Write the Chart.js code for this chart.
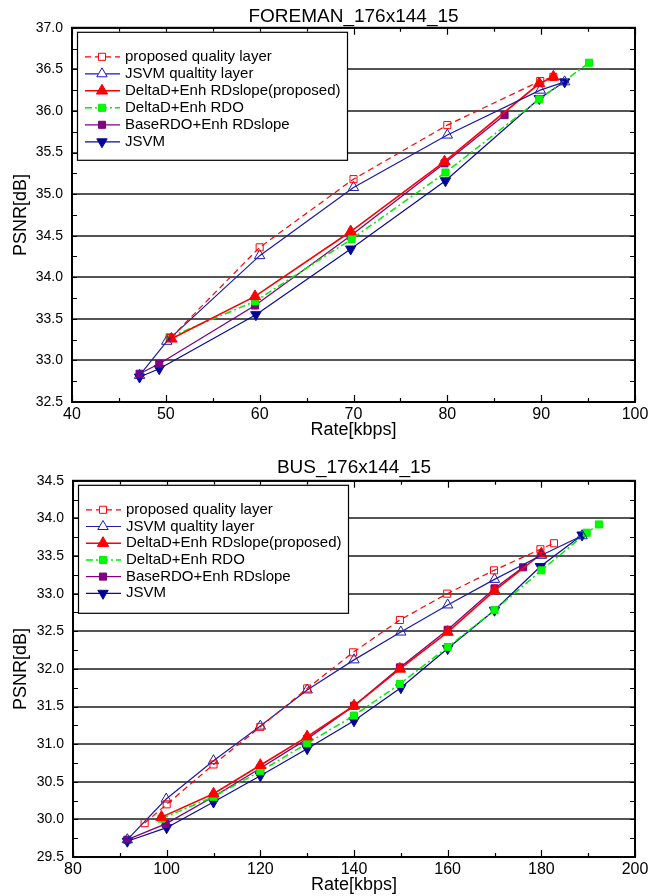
<!DOCTYPE html>
<html lang="en">
<head>
<meta charset="UTF-8">
<script src="https://cdn.jsdelivr.net/npm/chart.js"></script>
<title>PSNR vs Rate</title>
<style>
    body {
        margin: 0;
        padding: 0;
        background-color: #fff;
    }
    .box {
        width: 658px;
        height: 448px;
        position: relative;
    }
</style>
</head>
<body>

<div class="box"><canvas id="foremanChart" width="658" height="448"></canvas></div>
<div class="box"><canvas id="busChart" width="658" height="448"></canvas></div>

<script>
    const seriesNames = [
        'proposed quality layer',
        'JSVM qualtity layer',
        'DeltaD+Enh RDslope(proposed)',
        'DeltaD+Enh RDO',
        'BaseRDO+Enh RDslope',
        'JSVM'
    ];

    // FOREMAN_176x144_15  (rate in kbps, PSNR in dB)
    const foremanPropQLRate = [50.5, 60.0, 70.0, 80.0, 89.9, 91.3];
    const foremanPropQLPsnr = [33.27, 34.36, 35.18, 35.83, 36.36, 36.41];
    const foremanJsvmQLRate = [47.2, 50.1, 60.0, 70.0, 80.0, 89.9, 92.5];
    const foremanJsvmQLPsnr = [32.82, 33.23, 34.26, 35.08, 35.71, 36.25, 36.35];
    const foremanSlopeRate = [50.6, 59.5, 69.7, 79.7, 89.8, 91.3];
    const foremanSlopePsnr = [33.26, 33.77, 34.55, 35.39, 36.33, 36.41];
    const foremanRdoRate = [50.4, 59.5, 69.8, 79.8, 89.8, 95.1];
    const foremanRdoPsnr = [33.28, 33.71, 34.46, 35.26, 36.14, 36.58];
    const foremanBaseRate = [47.2, 49.3, 59.5, 69.7, 79.7, 86.1];
    const foremanBasePsnr = [32.84, 32.96, 33.66, 34.50, 35.37, 35.95];
    const foremanJsvmRate = [47.2, 49.3, 59.6, 69.7, 79.8, 89.8, 92.5];
    const foremanJsvmPsnr = [32.80, 32.90, 33.55, 34.34, 35.16, 36.15, 36.35];

    // BUS_176x144_15
    const busPropQLRate = [95.3, 100.0, 110.0, 120.0, 130.0, 139.8, 149.8, 159.9, 169.9, 179.8, 182.7];
    const busPropQLPsnr = [29.95, 30.20, 30.73, 31.23, 31.74, 32.22, 32.65, 33.00, 33.31, 33.59, 33.67];
    const busJsvmQLRate = [91.6, 99.9, 110.0, 120.0, 130.0, 140.0, 150.0, 160.0, 170.0, 180.0, 188.7];
    const busJsvmQLPsnr = [29.73, 30.27, 30.78, 31.24, 31.72, 32.12, 32.49, 32.85, 33.19, 33.51, 33.77];
    const busSlopeRate = [98.9, 110.0, 120.0, 130.0, 140.0, 149.8, 160.0, 170.0, 180.0];
    const busSlopePsnr = [30.03, 30.34, 30.72, 31.10, 31.51, 32.00, 32.49, 33.04, 33.53];
    const busRdoRate = [98.9, 110.0, 120.0, 130.0, 140.0, 149.8, 160.0, 170.0, 180.0, 189.7, 192.3];
    const busRdoPsnr = [30.01, 30.30, 30.64, 31.01, 31.38, 31.80, 32.29, 32.78, 33.31, 33.81, 33.92];
    const busBaseRate = [91.6, 99.8, 110.0, 120.0, 130.0, 140.0, 149.8, 160.0, 170.0, 176.1];
    const busBasePsnr = [29.73, 29.94, 30.30, 30.68, 31.07, 31.51, 32.02, 32.52, 33.07, 33.35];
    const busJsvmRate = [91.6, 100.0, 110.0, 120.0, 130.0, 140.0, 150.0, 160.0, 170.0, 179.8, 188.7];
    const busJsvmPsnr = [29.71, 29.89, 30.23, 30.58, 30.94, 31.31, 31.75, 32.27, 32.78, 33.36, 33.78];

    // axis ticks
    const foremanRateTicks = [40, 100, 10];
    const foremanPsnrTicks = [32.5, 37.0, 0.5];
    const busRateTicks = [80, 200, 20];
    const busPsnrTicks = [29.5, 34.5, 0.5];

    const FONT = '"Liberation Sans", Arial, Helvetica, sans-serif';

    // line / marker look of each series
    const seriesStyles = [
        { color: '#ff0000', width: 1.2, dash: [6, 4], point: 'rect', rot: 0, radius: 5, fill: 'rgba(255,255,255,0)', open: true },
        { color: '#1c1caa', width: 1.2, dash: [], point: 'triangle', rot: 0, radius: 6, fill: 'rgba(255,255,255,0)', open: true },
        { color: '#ff0000', width: 1.6, dash: [], point: 'triangle', rot: 0, radius: 6.5, fill: '#ff0000', open: false },
        { color: '#00ee00', width: 1.5, dash: [7, 3, 2, 3], point: 'rect', rot: 0, radius: 5, fill: '#00ff00', open: false },
        { color: '#800080', width: 1.3, dash: [], point: 'rect', rot: 0, radius: 5, fill: '#800080', open: false },
        { color: '#0a0a9a', width: 1.2, dash: [], point: 'triangle', rot: 180, radius: 6, fill: '#000099', open: false }
    ];

    function makeSet(i, rate, psnr) {
        const s = seriesStyles[i];
        return {
            label: seriesNames[i],
            data: rate.map((r, k) => ({ x: r, y: psnr[k] })),
            showLine: true,
            borderColor: s.color,
            borderWidth: s.width,
            borderDash: s.dash,
            pointStyle: s.point,
            pointRotation: s.rot,
            pointRadius: s.radius,
            pointBackgroundColor: s.fill,
            pointBorderColor: s.color,
            pointBorderWidth: 1,
            tension: 0,
            fill: false
        };
    }

    function drawMarker(ctx, s, x, y) {
        ctx.beginPath();
        if (s.point === 'rect') {
            const h = s.radius * Math.SQRT1_2;
            ctx.rect(x - h, y - h, 2 * h, 2 * h);
        } else {
            let rad = s.rot * Math.PI / 180;
            for (let k = 0; k < 3; k++) {
                const px = x + Math.sin(rad) * s.radius;
                const py = y - Math.cos(rad) * s.radius;
                if (k === 0) ctx.moveTo(px, py); else ctx.lineTo(px, py);
                rad += 2 * Math.PI / 3;
            }
            ctx.closePath();
        }
        ctx.fillStyle = s.open ? '#fff' : s.fill;
        ctx.fill();
        ctx.strokeStyle = s.color;
        ctx.lineWidth = 1;
        ctx.setLineDash([]);
        ctx.stroke();
    }

    // box frame, inward ticks and the legend inside the plot
    const framePlugin = {
        id: 'frameAndLegend',
        afterDatasetsDraw(chart, args, opts) {
            const { ctx, chartArea: a, scales } = chart;
            const xs = scales.x, ys = scales.y;
            ctx.save();
            ctx.setLineDash([]);
            ctx.strokeStyle = '#000';

            // inward ticks
            ctx.lineWidth = 1.2;
            ctx.beginPath();
            for (let v = xs.min; v <= xs.max + 1e-6; v += opts.xMinor) {
                const px = Math.round(xs.getPixelForValue(v)) + 0.5;
                const len = (Math.abs((v - xs.min) % opts.xMajor) < 1e-6) ? 7 : 4;
                ctx.moveTo(px, a.bottom); ctx.lineTo(px, a.bottom - len);
                ctx.moveTo(px, a.top); ctx.lineTo(px, a.top + len);
            }
            for (let v = ys.min; v <= ys.max + 1e-6; v += opts.yMinor) {
                const py = Math.round(ys.getPixelForValue(v)) + 0.5;
                ctx.moveTo(a.left, py); ctx.lineTo(a.left + 5, py);
                ctx.moveTo(a.right, py); ctx.lineTo(a.right - 5, py);
            }
            ctx.stroke();

            // frame
            ctx.lineWidth = 2;
            ctx.strokeRect(a.left, a.top, a.right - a.left, a.bottom - a.top);

            // legend
            const bx = a.left + 5, by = a.top + 4, bw = 270, bh = 128;
            ctx.fillStyle = '#fff';
            ctx.fillRect(bx, by, bw, bh);
            ctx.lineWidth = 1.2;
            ctx.strokeRect(bx + 0.5, by + 0.5, bw, bh);
            ctx.font = '15px ' + FONT;
            ctx.textBaseline = 'middle';
            chart.data.datasets.forEach((ds, i) => {
                const s = seriesStyles[i];
                const y = by + 25 + i * opts.rowGap;
                ctx.beginPath();
                ctx.setLineDash(s.dash);
                ctx.strokeStyle = s.color;
                ctx.lineWidth = s.width;
                ctx.moveTo(bx + 8, y);
                ctx.lineTo(bx + 43, y);
                ctx.stroke();
                drawMarker(ctx, s, bx + 25, y);
                ctx.fillStyle = '#000';
                ctx.fillText(ds.label, bx + 48, y);
            });
            ctx.restore();
        }
    };

    function buildChart(id, title, rateTicks, psnrTicks, sets, layout) {
        return new Chart(document.getElementById(id), {
            type: 'scatter',
            data: { datasets: sets },
            plugins: [framePlugin],
            options: {
                responsive: false,
                animation: false,
                events: [],
                layout: { padding: { left: 0, right: 23, top: 0, bottom: 0 } },
                plugins: {
                    legend: { display: false },
                    tooltip: { enabled: false },
                    title: {
                        display: true,
                        text: title,
                        fullSize: false,
                        color: '#000',
                        font: { family: FONT, size: 19, weight: 'normal' },
                        padding: layout.titlePad
                    },
                    frameAndLegend: { xMinor: rateTicks[2] / 2, xMajor: rateTicks[2], yMinor: psnrTicks[2] / 2, rowGap: layout.rowGap }
                },
                scales: {
                    x: {
                        type: 'linear',
                        min: rateTicks[0],
                        max: rateTicks[1],
                        afterFit: s => { s.height = layout.xHeight; },
                        ticks: {
                            stepSize: rateTicks[2],
                            color: '#000',
                            padding: 3,
                            maxRotation: 0,
                            font: { family: FONT, size: 16 }
                        },
                        grid: { display: false, drawTicks: false },
                        border: { display: false },
                        title: {
                            display: true,
                            text: 'Rate[kbps]',
                            color: '#000',
                            font: { family: FONT, size: 18 },
                            padding: { top: 0, bottom: layout.xTitleBottom }
                        }
                    },
                    y: {
                        type: 'linear',
                        min: psnrTicks[0],
                        max: psnrTicks[1],
                        afterFit: s => { s.width = layout.yWidth; },
                        ticks: {
                            stepSize: psnrTicks[2],
                            color: '#000',
                            padding: 9,
                            font: { family: FONT, size: 14 },
                            callback: v => v.toFixed(1)
                        },
                        grid: { color: '#555', lineWidth: 2, drawTicks: false },
                        border: { display: false },
                        title: {
                            display: true,
                            text: 'PSNR[dB]',
                            color: '#000',
                            font: { family: FONT, size: 18 },
                            padding: { top: 10, bottom: 0 }
                        }
                    }
                }
            }
        });
    }

    buildChart('foremanChart', 'FOREMAN_176x144_15', foremanRateTicks, foremanPsnrTicks, [
        makeSet(0, foremanPropQLRate, foremanPropQLPsnr),
        makeSet(1, foremanJsvmQLRate, foremanJsvmQLPsnr),
        makeSet(2, foremanSlopeRate, foremanSlopePsnr),
        makeSet(3, foremanRdoRate, foremanRdoPsnr),
        makeSet(4, foremanBaseRate, foremanBasePsnr),
        makeSet(5, foremanJsvmRate, foremanJsvmPsnr)
    ], { titlePad: { top: 5, bottom: 0 }, xHeight: 46, xTitleBottom: 7, yWidth: 72, rowGap: 17 });

    buildChart('busChart', 'BUS_176x144_15', busRateTicks, busPsnrTicks, [
        makeSet(0, busPropQLRate, busPropQLPsnr),
        makeSet(1, busJsvmQLRate, busJsvmQLPsnr),
        makeSet(2, busSlopeRate, busSlopePsnr),
        makeSet(3, busRdoRate, busRdoPsnr),
        makeSet(4, busBaseRate, busBasePsnr),
        makeSet(5, busJsvmRate, busJsvmPsnr)
    ], { titlePad: { top: 8, bottom: 2 }, xHeight: 39, xTitleBottom: 0, yWidth: 73, rowGap: 16.7 });
</script>

</body>
</html>
